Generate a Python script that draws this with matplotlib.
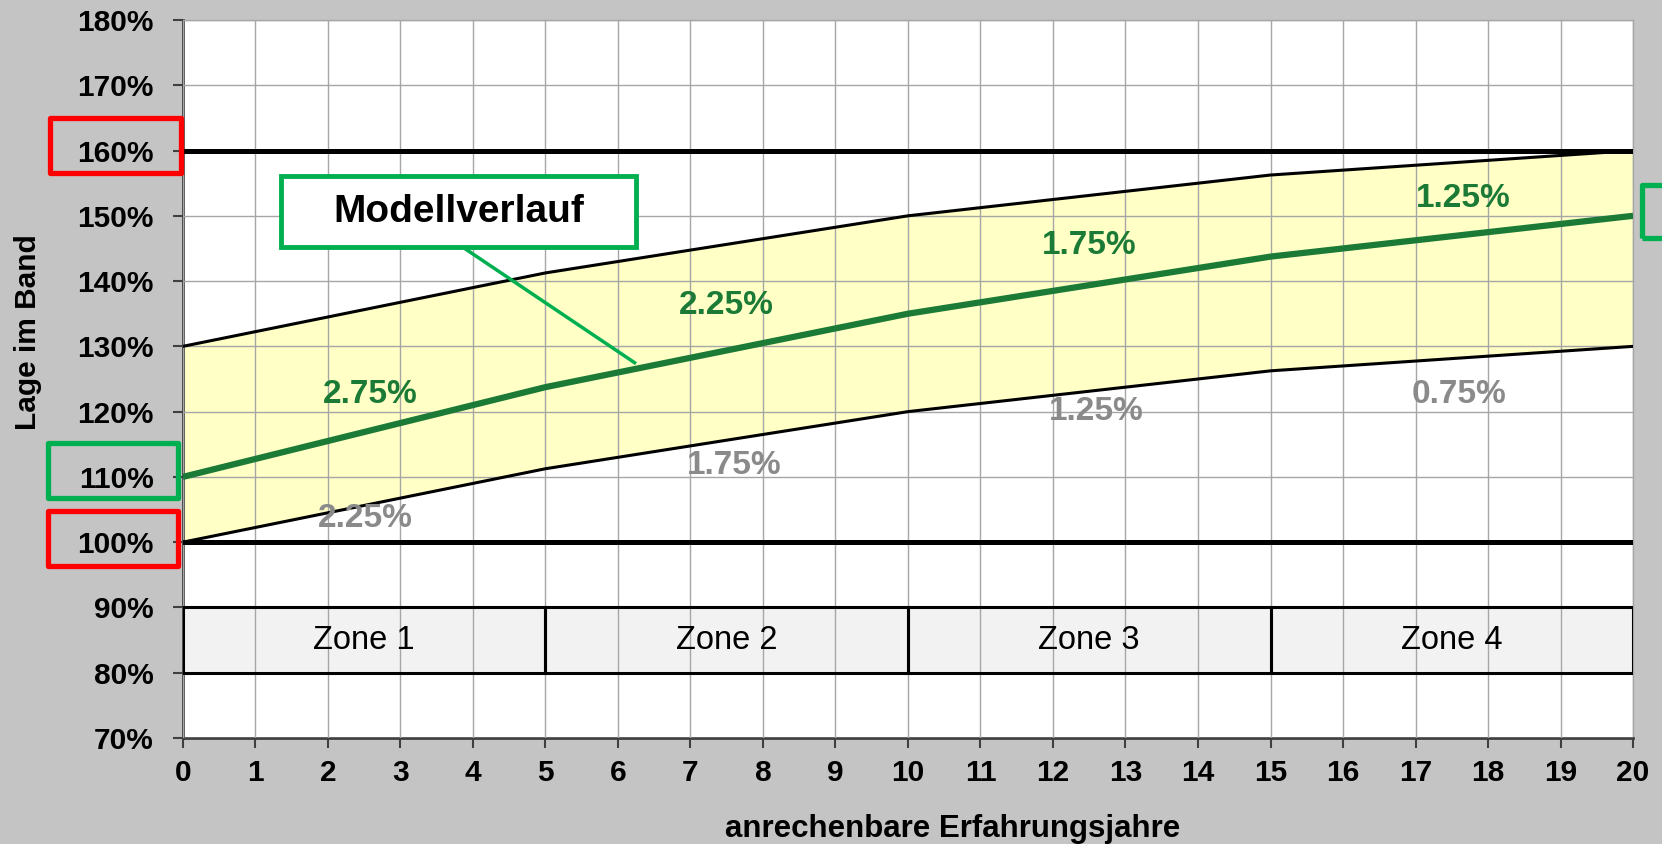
import matplotlib
matplotlib.use("Agg")
import matplotlib.pyplot as plt
from matplotlib.patches import Rectangle

plt.rcParams['font.family'] = ['Liberation Sans', 'DejaVu Sans']

# zone boundaries (years) and band values (% of band)
years = [0, 5, 10, 15, 20]
lower = [100, 111.25, 120, 126.25, 130]
model = [110, 123.75, 135, 143.75, 150]
upper = [130, 141.25, 150, 156.25, 160]

zone_names = ["Zone 1", "Zone 2", "Zone 3", "Zone 4"]
model_rates = ["2.75%", "2.25%", "1.75%", "1.25%"]
band_rates = ["2.25%", "1.75%", "1.25%", "0.75%"]

# label anchor points
model_label_x = [2.58, 7.49, 12.5, 17.66]
model_label_y = [122.6, 136.2, 145.5, 152.6]
band_label_x = [2.52, 7.6, 12.6, 17.6]
band_label_y = [103.7, 111.7, 120.0, 122.7]

green_txt = "#1b7a35"
green_box = "#00b050"
grey_txt = "#8a8a8a"
bg = "#c4c4c4"

fig = plt.figure(figsize=(16.62, 8.44), dpi=100, facecolor=bg)
ax = fig.add_axes([0.110, 0.1256, 0.8726, 0.8507])
ax.set_facecolor("white")

ax.set_xlim(0, 20)
ax.set_ylim(70, 180)
ax.set_xticks(range(0, 21))
ax.set_yticks(range(70, 181, 10))
ax.set_yticklabels([f"{v}%" for v in range(70, 181, 10)])

ax.set_axisbelow(False)
ax.grid(True, color="#a6a6a6", lw=1.0)

# band fill
ax.fill_between(years, lower, upper, color="#ffffc6", zorder=1, lw=0)

# zone boxes: fill below grid, frame above it
for i, name in enumerate(zone_names):
    w = years[i + 1] - years[i]
    ax.add_patch(Rectangle((years[i], 80), w, 10, fc="#f2f2f2", lw=0, zorder=1))
    ax.add_patch(Rectangle((years[i], 80), w, 10, fc="none", ec="black",
                           lw=2.2, zorder=3))
    ax.text((years[i] + years[i + 1]) / 2, 85, name, ha="center", va="center",
            fontsize=23.5, zorder=5)

# band limits and lines
ax.axhline(100, color="black", lw=3.6, zorder=3)
ax.axhline(160, color="black", lw=3.6, zorder=3)
ax.plot(years, lower, color="black", lw=2.2, zorder=3)
ax.plot(years, upper, color="black", lw=2.2, zorder=3)
ax.plot(years, model, color=green_txt, lw=4.5, zorder=4, solid_capstyle="butt")

for x, y, t in zip(model_label_x, model_label_y, model_rates):
    ax.text(x, y, t, ha="center", va="center", fontsize=24, fontweight="bold",
            color=green_txt, zorder=5)
for x, y, t in zip(band_label_x, band_label_y, band_rates):
    ax.text(x, y, t, ha="center", va="center", fontsize=24, fontweight="bold",
            color=grey_txt, zorder=5)

# Modellverlauf callout
ax.plot([3.86, 6.23], [145.2, 127.5], color=green_box, lw=2.5, zorder=5)
ax.add_patch(Rectangle((1.35, 145.2), 4.9, 10.9, fc="white", ec=green_box,
                       lw=3.5, zorder=6))
ax.text(3.8, 150.65, "Modellverlauf", ha="center", va="center", fontsize=28,
        fontweight="bold", zorder=7)

# highlight frames around tick labels
frames = [(-1.83, 156.6, "red"), (-1.86, 106.8, green_box), (-1.86, 96.4, "red")]
for x0, y0, c in frames:
    ax.add_patch(Rectangle((x0, y0), 1.8, 8.4, fc="none", ec=c, lw=3.8,
                           clip_on=False, zorder=8, joinstyle="round"))
ax.add_patch(Rectangle((20.12, 146.6), 2.0, 8.1, fc="none", ec=green_box, lw=3.8,
                       clip_on=False, zorder=8, joinstyle="round"))

# axes styling
for s in ["left", "bottom"]:
    ax.spines[s].set_color("#404040")
    ax.spines[s].set_linewidth(2)
for s in ["top", "right"]:
    ax.spines[s].set_color("#a6a6a6")
    ax.spines[s].set_linewidth(1)
ax.tick_params(direction="out", length=7, width=1.5, color="#404040",
               labelsize=21.5)
ax.tick_params(axis="y", pad=14)
ax.tick_params(axis="x", pad=8)
for lab in ax.get_xticklabels() + ax.get_yticklabels():
    lab.set_fontweight("bold")

ax.set_ylabel("Lage im Band", fontsize=21.5, fontweight="bold")
ax.yaxis.set_label_coords(-0.097, 0.565)
ax.set_xlabel("anrechenbare Erfahrungsjahre", fontsize=22.5, fontweight="bold")
ax.xaxis.set_label_coords(0.531, -0.106)

fig.savefig("out.png", dpi=100, facecolor=bg)
